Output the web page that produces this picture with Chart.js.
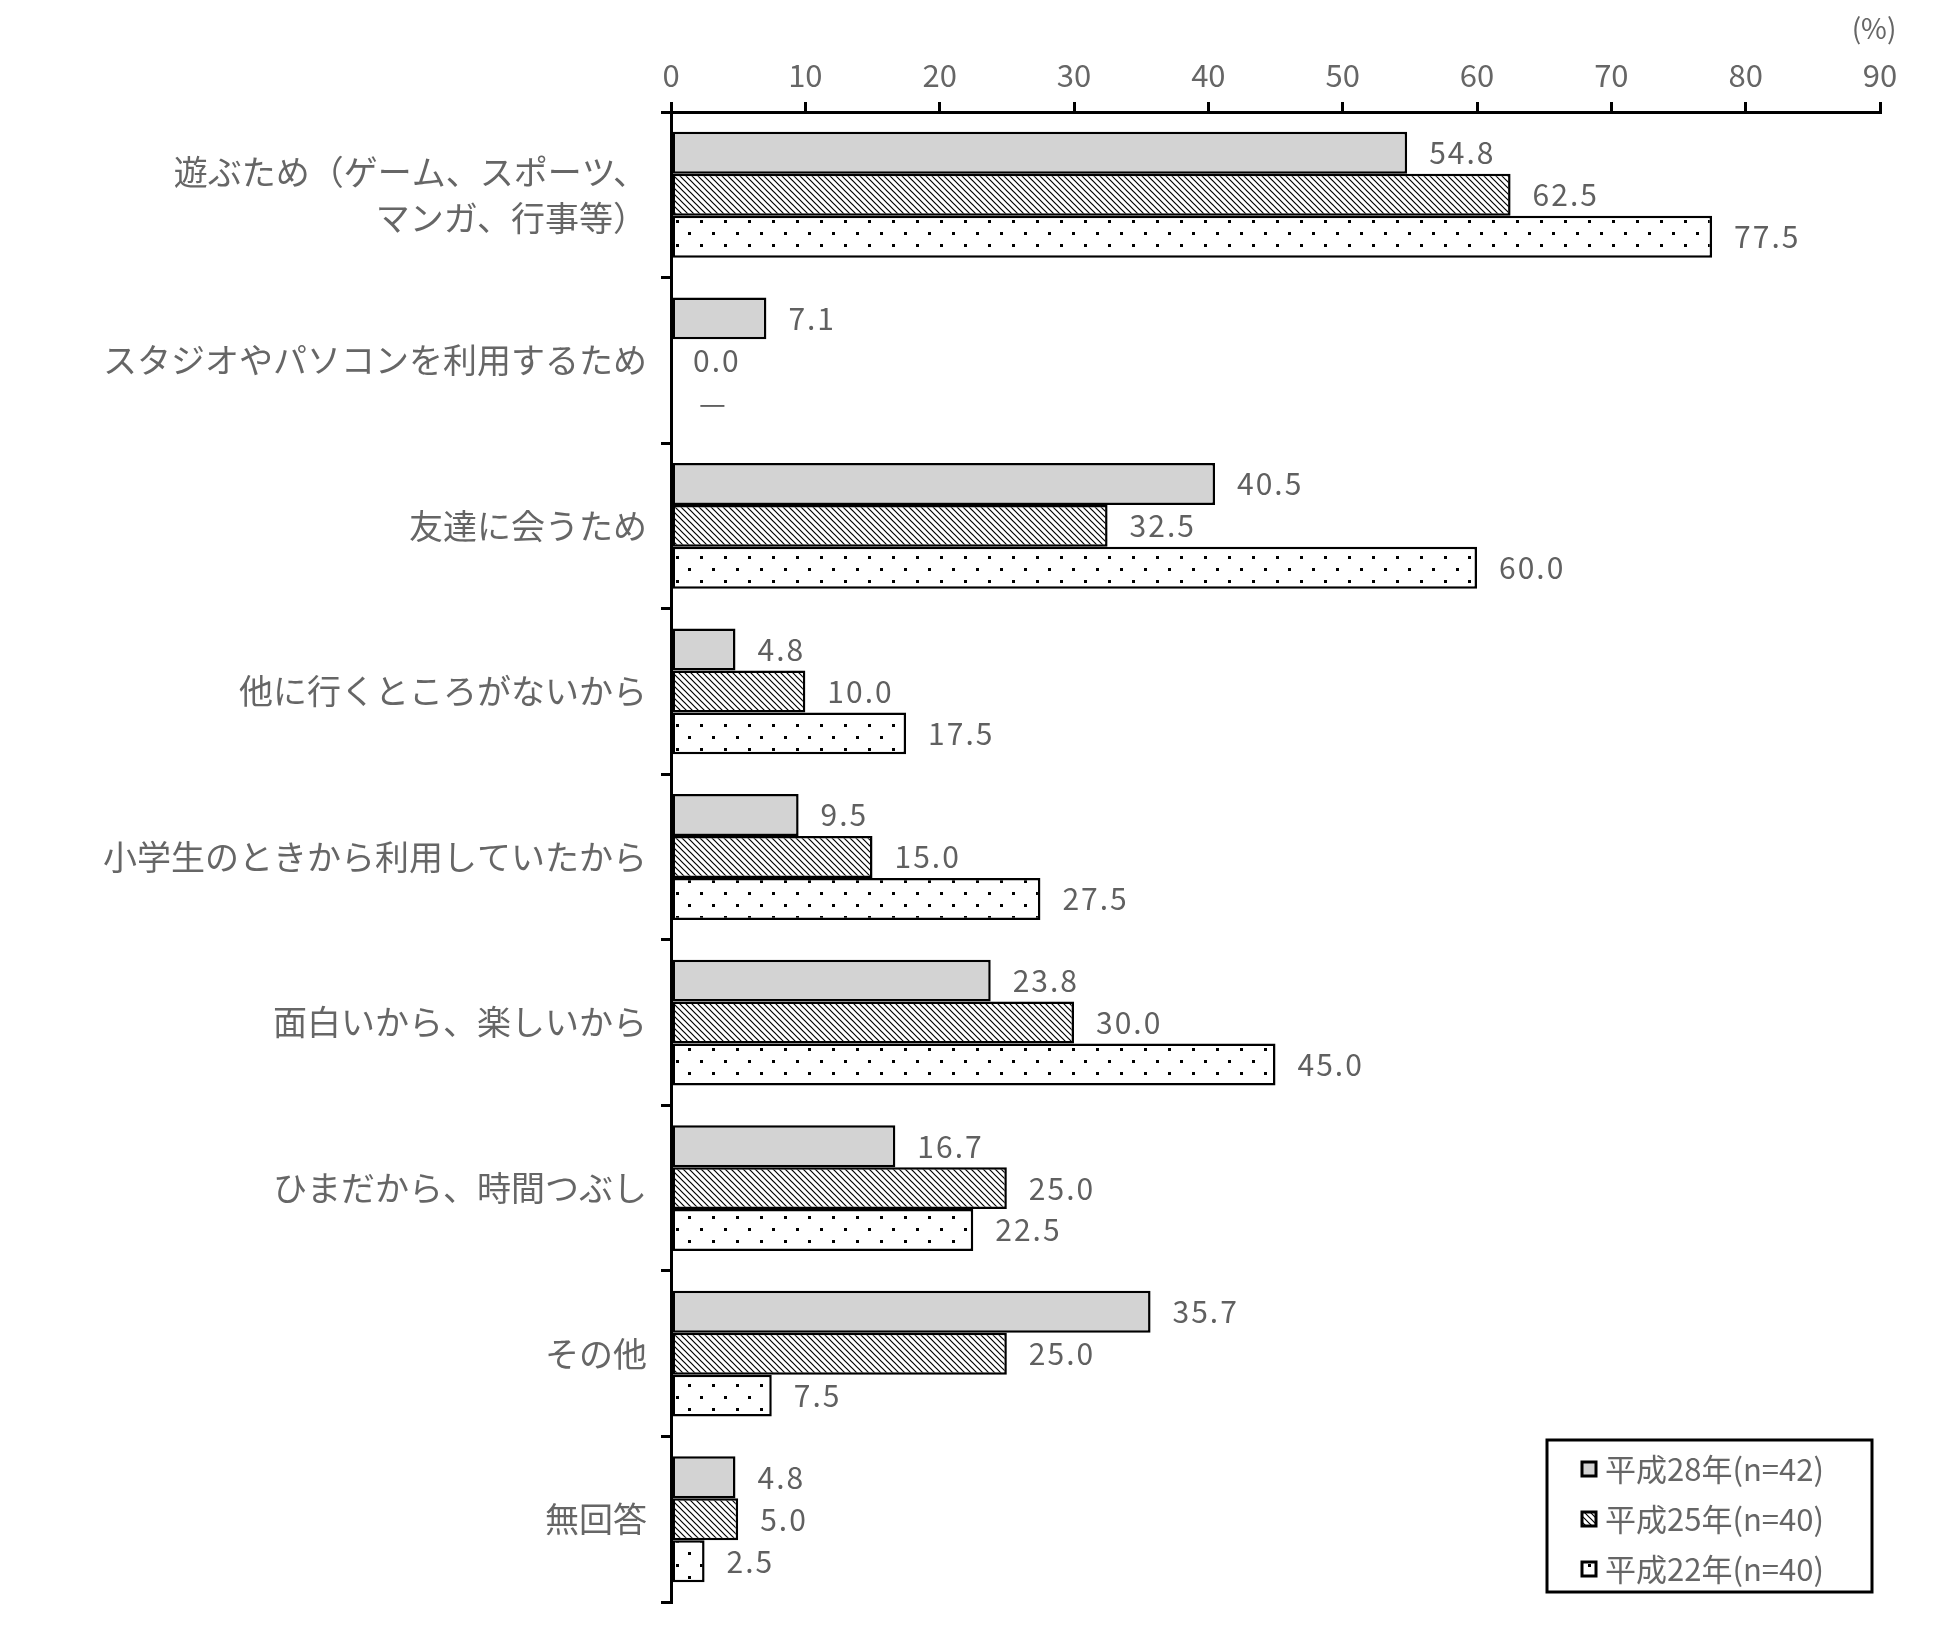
<!DOCTYPE html>
<html>
<head>
<meta charset="utf-8">
<script src="https://cdn.jsdelivr.net/npm/chart.js@4.4.1/dist/chart.umd.min.js"></script>
<style>
  html, body { margin: 0; padding: 0; background: #fff; }
  #wrap { width: 1948px; height: 1633px; position: relative; }
</style>
</head>
<body>
<div id="wrap"><canvas id="chart"></canvas></div>
<script>
const categories = [
  ['遊ぶため（ゲーム、スポーツ、', 'マンガ、行事等）'],
  'スタジオやパソコンを利用するため',
  '友達に会うため',
  '他に行くところがないから',
  '小学生のときから利用していたから',
  '面白いから、楽しいから',
  'ひまだから、時間つぶし',
  'その他',
  '無回答'
];
const seriesNames = ['平成28年(n=42)', '平成25年(n=40)', '平成22年(n=40)'];
const h28 = [54.8, 7.1, 40.5, 4.8, 9.5, 23.8, 16.7, 35.7, 4.8];
const h25 = [62.5, 0.0, 32.5, 10.0, 15.0, 30.0, 25.0, 25.0, 5.0];
const h22 = [77.5, null, 60.0, 17.5, 27.5, 45.0, 22.5, 7.5, 2.5];
const xTicks = [0, 10, 20, 30, 40, 50, 60, 70, 80, 90];

const FONT = '"Noto Sans CJK JP", "Noto Sans", sans-serif';
const TEXT = '#666666';

function makePattern(kind) {
  const c = document.createElement('canvas');
  const ctx = c.getContext('2d');
  if (kind === 'hatch') {
    c.width = 6; c.height = 6;
    ctx.fillStyle = '#fff';
    ctx.fillRect(0, 0, 6, 6);
    ctx.strokeStyle = '#000';
    ctx.lineWidth = 1.2;
    ctx.beginPath();
    ctx.moveTo(-1, -1); ctx.lineTo(7, 7);
    ctx.moveTo(5, -1); ctx.lineTo(7, 1);
    ctx.moveTo(-1, 5); ctx.lineTo(1, 7);
    ctx.stroke();
  } else {
    c.width = 24; c.height = 24;
    ctx.fillStyle = '#fff';
    ctx.fillRect(0, 0, 24, 24);
    ctx.fillStyle = '#000';
    ctx.fillRect(4, 4, 3, 3);
    ctx.fillRect(16, 16, 3, 3);
  }
  return ctx.createPattern(c, 'repeat');
}

const fills = ['#d3d3d3', makePattern('hatch'), makePattern('dots')];

const valueLabels = {
  id: 'valueLabels',
  afterDatasetsDraw(chart) {
    const ctx = chart.ctx;
    const x0 = chart.scales.x.getPixelForValue(0);
    ctx.save();
    ctx.font = '30px ' + FONT;
    ctx.fillStyle = '#606060';
    ctx.textAlign = 'left';
    ctx.textBaseline = 'middle';
    ctx.letterSpacing = '2px';
    chart.data.datasets.forEach((ds, di) => {
      const meta = chart.getDatasetMeta(di);
      meta.data.forEach((bar, i) => {
        const v = ds.data[i];
        if (v === null) {
          ctx.fillText('—', x0 + 28, bar.y);
        } else {
          ctx.fillText(v.toFixed(1), bar.x + 22, bar.y);
        }
      });
    });
    ctx.restore();
  }
};

const boxLegend = {
  id: 'boxLegend',
  afterDraw(chart) {
    const ctx = chart.ctx;
    const area = chart.chartArea;
    const w = 325, h = 152;
    const bx = area.right - 8 - w, by = area.bottom - 10 - h;
    ctx.save();
    ctx.fillStyle = '#fff';
    ctx.fillRect(bx, by, w, h);
    ctx.strokeStyle = '#000';
    ctx.lineWidth = 3;
    ctx.strokeRect(bx, by, w, h);
    ctx.font = '31px ' + FONT;
    ctx.textBaseline = 'middle';
    ctx.textAlign = 'left';
    seriesNames.forEach((name, i) => {
      const cy = by + 29 + i * 50;
      ctx.fillStyle = fills[i];
      ctx.fillRect(bx + 35, cy - 7, 14, 14);
      ctx.strokeStyle = '#000';
      ctx.lineWidth = 3;
      ctx.strokeRect(bx + 35, cy - 7, 14, 14);
      ctx.fillStyle = TEXT;
      ctx.fillText(name, bx + 58, cy);
    });
    // unit label
    ctx.font = '28px ' + FONT;
    ctx.textAlign = 'center';
    ctx.fillText('(%)', chart.scales.x.getPixelForValue(90) - 6, 28);
    ctx.restore();
  }
};

new Chart(document.getElementById('chart'), {
  type: 'bar',
  data: {
    labels: categories,
    datasets: [h28, h25, h22].map((d, i) => ({
      label: seriesNames[i],
      data: d,
      backgroundColor: fills[i],
      borderColor: '#000',
      borderWidth: 2.5,
      borderSkipped: false,
      categoryPercentage: 0.76,
      barPercentage: 1.0
    }))
  },
  options: {
    indexAxis: 'y',
    responsive: true,
    maintainAspectRatio: false,
    animation: false,
    layout: { padding: { left: 0, top: 0, right: 68, bottom: 31 } },
    plugins: { legend: { display: false }, tooltip: { enabled: false } },
    scales: {
      x: {
        position: 'top',
        min: 0,
        max: 90,
        afterBuildTicks: s => { s.ticks = xTicks.map(v => ({ value: v })); },
        afterFit: s => { s.height = 112; s.paddingLeft = 0; s.paddingRight = 0; },
        ticks: { color: TEXT, font: { family: FONT, size: 31 }, padding: 8, maxRotation: 0 },
        grid: { drawOnChartArea: false, tickLength: 10, color: '#000', lineWidth: 3 },
        border: { color: '#000', width: 3 }
      },
      y: {
        afterFit: s => { s.width = 671; s.paddingTop = 0; s.paddingBottom = 0; },
        ticks: { color: TEXT, font: { family: FONT, size: 34, lineHeight: 1.35 }, padding: 14, autoSkip: false },
        grid: { offset: true, drawOnChartArea: false, tickLength: 10, color: '#000', lineWidth: 3 },
        border: { color: '#000', width: 3 }
      }
    }
  },
  plugins: [valueLabels, boxLegend]
});
</script>
</body>
</html>
